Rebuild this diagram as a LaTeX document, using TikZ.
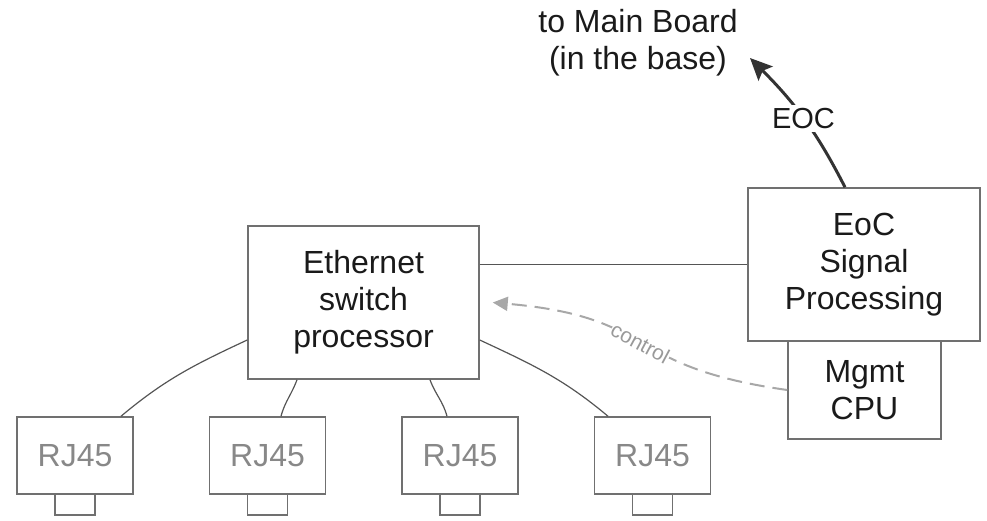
\documentclass[tikz,border=0pt]{standalone}
\usepackage{fontspec}
\setmainfont{Liberation Sans}
\usetikzlibrary{arrows.meta}
\definecolor{boxline}{HTML}{707070}
\definecolor{wireline}{HTML}{555555}
\definecolor{textdark}{HTML}{1A1A1A}
\definecolor{portgray}{HTML}{888888}
\definecolor{ctrlgray}{HTML}{A8A8A8}
\definecolor{ctrltext}{HTML}{999999}
\definecolor{arrowdark}{HTML}{333333}
\begin{document}
\begin{tikzpicture}[x=1pt,y=1pt,
  box/.style={draw=boxline, line width=1.5pt, inner sep=0pt, align=center,
    text=textdark, font=\fontsize{32}{37}\selectfont},
  port/.style={draw=boxline, line width=1.5pt, inner sep=0pt,
    minimum width=116pt, minimum height=77pt, text=portgray,
    font=\fontsize{32}{37}\selectfont},
  tab/.style={draw=boxline, line width=1.5pt},
  wire/.style={draw=wireline, line width=1.2pt},
  ctrl/.style={draw=ctrlgray, line width=2pt, dash pattern=on 15pt off 8pt,
    -{Triangle[length=15pt,width=14pt,fill=ctrlgray]}},
  eocarrow/.style={draw=arrowdark, line width=3pt,
    -{Stealth[length=22pt,width=20pt,inset=4pt]}},
]
\useasboundingbox (0,0) rectangle (987,-521);

% main blocks
\node[box, minimum width=231pt, minimum height=153pt] (switch) at (363.5,-302.5)
  {Ethernet\\switch\\processor};
\node[box, minimum width=232pt, minimum height=153pt] (eoc) at (864,-264.5)
  {EoC\\Signal\\Processing};
\node[box, minimum width=153pt, minimum height=98pt] (mgmt) at (864.5,-390)
  {Mgmt\\CPU};

% RJ45 jacks with their latch tabs
\foreach \i/\cx in {1/75, 2/267.5, 3/460, 4/652.5} {
  \node[port] (rj\i) at (\cx,-455.5) {RJ45};
  \draw[tab] ([xshift=-20pt]rj\i.south) -- ++(0,-20) -- ++(40,0) -- ++(0,20);
}

% destination label
\node[text=textdark, align=center, inner sep=0pt, font=\fontsize{32}{37}\selectfont]
  (mainboard) at (638,-43) {to Main Board\\(in the base)};
\coordinate (eocend) at (750,-58);

% switch to jacks
\draw[wire] ([yshift=-37.5pt]switch.west) to[out=205,in=40] ([xshift=46pt]rj1.north);
\draw[wire] ([xshift=-66.5pt]switch.south) to[out=250,in=75] ([xshift=13.5pt]rj2.north);
\draw[wire] ([xshift=66.5pt]switch.south) to[out=290,in=105] ([xshift=-13pt]rj3.north);
\draw[wire] ([yshift=-37.5pt]switch.east) to[out=-25,in=140] ([xshift=-44.5pt]rj4.north);

% switch to EoC
\draw[wire] (switch.east |- eoc.west) -- (eoc.west);

% management control
\draw[ctrl] (mgmt.west) to[out=172,in=-5,looseness=1.4]
  node[sloped, fill=white, inner sep=0.5pt, text=ctrltext,
       font=\fontsize{21}{23}\selectfont] (ctrllabel) {control}
  ([xshift=13pt]switch.east);

% EoC uplink
\draw[eocarrow] ([xshift=-19pt]eoc.north) to[out=117,in=-45]
  node[fill=white, inner sep=3pt, text=textdark,
       font=\fontsize{29}{32}\selectfont] (eoclabel) {EOC}
  (eocend);
\end{tikzpicture}
\end{document}
